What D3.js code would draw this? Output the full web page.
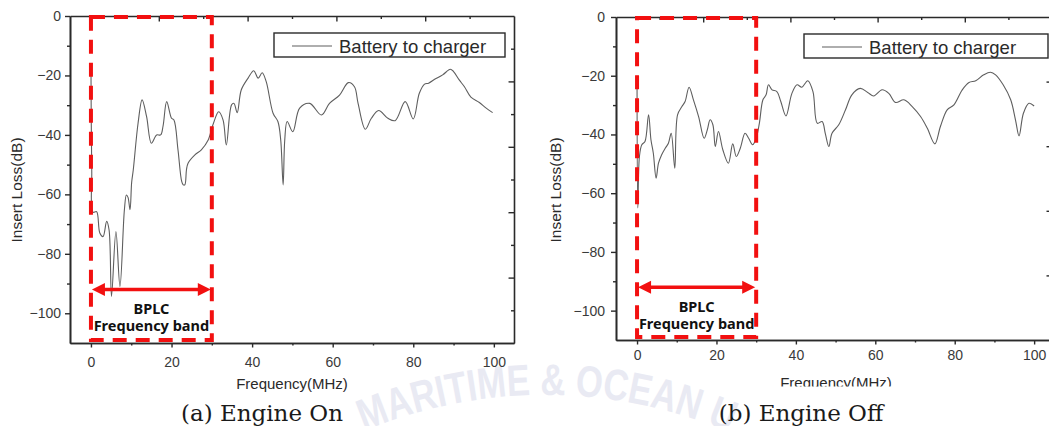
<!DOCTYPE html>
<html>
<head>
<meta charset="utf-8">
<script src="https://cdn.jsdelivr.net/npm/d3@7/dist/d3.min.js"></script>
<style>
  body { margin: 0; background: #fff; }
  svg { display: block; }
  .tick text { font-family: "Liberation Sans", Arial, sans-serif; font-size: 14px; fill: #3a3a3a; }
</style>
</head>
<body>
<svg id="fig" width="1049" height="426"></svg>
<script>
// ---- data ----
var onFreq = [0, 0.2, 0.5, 1.4, 2.2, 3.0, 3.9, 4.5, 5.1, 6.2, 7.2, 8.3, 8.8, 9.2, 9.7, 10.1, 10.5,
  11.7, 12.7, 13.8, 15.0, 16.3, 17.3, 17.9, 18.8, 20.0, 20.6, 21.6, 22.5, 22.9, 23.3, 23.7, 24.1,
  25.8, 27.4, 29.1, 30.3, 31.7, 32.8, 33.6, 34.9, 35.5, 36.3, 37.3, 39.0, 40.4, 41.5, 42.5, 43.5,
  45.2, 46.4, 47.1, 47.7, 48.1, 48.7, 50.1, 51.8, 54.3, 57.2, 59.2, 61.7, 63.9, 65.4, 66.3, 68.1,
  69.6, 71.4, 73.7, 75.5, 78.0, 80.0, 81.5, 82.8, 83.8, 85.3, 87.3, 89.2, 90.0, 91.4, 92.7, 94.3,
  96.4, 98.1, 99.7];
var onLoss = [-16, -52, -66, -65.8, -73, -74.2, -69.1, -72, -94.3, -72.5, -91, -65.2, -60.2, -61, -65.2, -56, -51.8,
  -36, -28.2, -33.8, -42.8, -40, -40, -37, -28.8, -34.4, -35, -45, -55.5, -56.8, -56.8, -51.8, -49.5,
  -46.7, -45, -41.7, -36.5, -32.2, -35, -43.4, -29.9, -29.4, -32.5, -24.9, -20.9, -18.4, -20.9, -19.1, -22.1,
  -32.7, -35.5, -41.7, -56.8, -41.7, -35.5, -38.9, -31, -29.4, -33.3, -29.4, -26.6, -22.4, -23.8, -29.4, -38.1,
  -34.4, -31.8, -34.4, -35.2, -28.8, -34.6, -26, -22.9, -22.6, -21.3, -19.8, -17.9, -18.7, -21.5, -23.8, -27.3,
  -29.1, -31, -32.5];

var offFreq = [0, 0.2, 0.6, 1.2, 2.0, 2.9, 3.5, 4.1, 4.8, 5.4, 6.2, 7.1, 7.9, 8.6, 9.5, 10.2, 11.3,
  12.1, 13.1, 14.2, 15.5, 16.9, 17.7, 18.4, 19.1, 19.7, 20.5, 21.6, 23.0, 24.1, 25.0, 26.0, 27.2,
  28.1, 29.1, 30.0, 30.8, 31.7, 32.5, 33.1, 34.0, 35.2, 36.2, 37.5, 39.0, 40.3, 41.5, 43.0, 44.3,
  45.4, 46.6, 47.4, 48.3, 49.1, 50.8, 52.5, 54.1, 56.2, 58.1, 59.6, 61.7, 63.4, 65.1, 67.2, 69.3,
  71.4, 73.1, 75.0, 76.4, 78.1, 79.8, 81.9, 83.6, 85.3, 87.3, 89.0, 90.3, 92.2, 94.1, 95.3, 96.2,
  97.3, 98.7, 100];
var offLoss = [-20, -65, -47.5, -43.5, -42.4, -33.3, -41.8, -46.4, -54.9, -49.8, -46.9, -44.7, -43, -39.6, -51.5, -33.3, -30.5,
  -28.8, -23.9, -28.2, -33.9, -41.3, -38.4, -35, -36.7, -44.1, -39, -45.2, -49.8, -43.2, -47.5, -44.7, -39.6,
  -41.3, -43.5, -41.3, -36.2, -28.2, -26.5, -23.1, -24.8, -25.4, -28.8, -33.7, -26, -23.1, -23.9, -21.7, -25.4,
  -36.2, -35.6, -39.6, -44.1, -39.6, -36.7, -31.6, -26.5, -24.3, -25.7, -26.9, -24.8, -26, -29.1, -28.2, -30.5,
  -33.9, -37.9, -43.2, -37.3, -31.6, -29.9, -24.8, -22.3, -21.7, -19.7, -18.8, -19.7, -23.1, -28.2, -35, -40.5,
  -32.8, -29.4, -30.3];

var xTicks = [0, 20, 40, 60, 80, 100];
var xMinor = [10, 30, 50, 70, 90];
var yTicks = [0, -20, -40, -60, -80, -100];
var yMinor = [-10, -30, -50, -70, -90];
var yDomain = [-110, 0];
var bandRange = [0, 30];
var bandArrowAt = -92;
var legendLabel = "Battery to charger";
var bandLabel = ["BPLC", "Frequency band"];
var captions = ["(a) Engine On", "(b) Engine Off"];
var xTitle = "Frequency(MHz)";
var yTitle = "Insert Loss(dB)";
var watermark = "MARITIME & OCEAN U";

// ---- layout of each panel ----
var panels = [
  { left: 70, right: 514, top: 16, bottom: 343, xDom: [-5.2, 105], xPad: 10, yPad: 4,
    legX: 274, legW: 231, yTitleX: 16, xTitleX: 292, xTitleY: 389, capX: 262, clipTitle: false },
  { left: 616, right: 1052, top: 17, bottom: 340, xDom: [-5.3, 104.5], xPad: 6, yPad: 6,
    legX: 804, legW: 244, yTitleX: 555, xTitleX: 836, xTitleY: 388, capX: 801, clipTitle: true }
];

var svg = d3.select("svg#fig");
var red = "#f21010";

// faint watermark behind the charts
svg.append("path").attr("id", "wmArc").attr("fill", "none")
  .attr("d", "M355,435 A469,469 0 0,1 760,447");
svg.append("text")
  .attr("font-family", "'Liberation Sans', Arial, sans-serif")
  .attr("font-weight", "bold").attr("font-size", 44).attr("fill", "#e9eaf3")
  .append("textPath").attr("href", "#wmArc").attr("startOffset", 10)
  .attr("textLength", 375).attr("lengthAdjust", "spacingAndGlyphs").text(watermark);

svg.append("defs").append("clipPath").attr("id", "clipBottom")
  .append("rect").attr("x", 0).attr("y", 0).attr("width", 1049).attr("height", 386.5);

function negFmt(d) { return d < 0 ? "\u2212" + (-d) : String(d); }

function drawPanel(p, freq, loss, caption) {
  var x = d3.scaleLinear().domain(p.xDom).range([p.left, p.right]);
  var y = d3.scaleLinear().domain(yDomain).range([p.bottom, p.top]);
  // top/right frame axes are split in ten equal parts
  var fx = d3.scaleLinear().domain([0, 10]).range([p.left, p.right]);
  var fy = d3.scaleLinear().domain([0, 10]).range([p.bottom, p.top]);

  var g = svg.append("g");

  // curve
  var pts = freq.map(function(f, i) { return [f, loss[i]]; });
  g.append("path").datum(pts)
    .attr("fill", "none").attr("stroke", "#5e5e5e").attr("stroke-width", 1.1)
    .attr("d", d3.line().curve(d3.curveCatmullRom.alpha(0.5))
      .x(function(d) { return x(d[0]); }).y(function(d) { return y(d[1]); }));

  // axes
  function styleAxis(sel) {
    sel.selectAll("path.domain").attr("stroke", "#2a2a2a").attr("stroke-width", 1.6);
    sel.selectAll(".tick line").attr("stroke", "#2a2a2a").attr("stroke-width", 1.4);
  }
  function noText(sel) { sel.selectAll(".tick text").remove(); }

  g.append("g").attr("transform", "translate(0," + p.bottom + ")")
    .call(d3.axisBottom(x).tickValues(xMinor).tickSize(2.5).tickSizeOuter(0))
    .call(styleAxis).call(noText);
  g.append("g").attr("transform", "translate(0," + p.bottom + ")")
    .call(d3.axisBottom(x).tickValues(xTicks).tickSize(4.5).tickSizeOuter(0).tickPadding(p.xPad).tickFormat(d3.format("d")))
    .call(styleAxis);
  g.append("g").attr("transform", "translate(" + p.left + ",0)")
    .call(d3.axisLeft(y).tickValues(yMinor).tickSize(3).tickSizeOuter(0))
    .call(styleAxis).call(noText);
  g.append("g").attr("transform", "translate(" + p.left + ",0)")
    .call(d3.axisLeft(y).tickValues(yTicks).tickSize(5).tickSizeOuter(0).tickPadding(p.yPad).tickFormat(negFmt))
    .call(styleAxis);
  g.append("g").attr("transform", "translate(0," + p.top + ")")
    .call(d3.axisTop(fx).tickValues(d3.range(1, 10)).tickSizeInner(-3).tickSizeOuter(0))
    .call(styleAxis).call(noText)
    .selectAll(".tick line").attr("y2", function(d) { return (10 - d) % 2 === 0 ? 5.5 : 3; });
  g.append("g").attr("transform", "translate(" + p.right + ",0)")
    .call(d3.axisRight(fy).tickValues(d3.range(1, 10)).tickSizeInner(-3).tickSizeOuter(0))
    .call(styleAxis).call(noText)
    .selectAll(".tick line").attr("x2", function(d) { return d % 2 === 0 ? -5.5 : -3; });

  // legend
  var leg = g.append("g");
  leg.append("rect").attr("x", p.legX).attr("y", p.top + 17).attr("width", p.legW).attr("height", 24)
    .attr("fill", "#fff").attr("stroke", "#2a2a2a").attr("stroke-width", 1.4);
  leg.append("line").attr("x1", p.legX + 18).attr("x2", p.legX + 58)
    .attr("y1", p.top + 30).attr("y2", p.top + 30)
    .attr("stroke", "#5e5e5e").attr("stroke-width", 1.1);
  leg.append("text").attr("x", p.legX + 65).attr("y", p.top + 37)
    .attr("font-family", "'Liberation Sans', Arial, sans-serif").attr("font-size", 18.5)
    .attr("fill", "#2a2a2a").text(legendLabel);

  // BPLC band box
  var bx0 = x(bandRange[0]), bx1 = x(bandRange[1]);
  g.append("rect").attr("x", bx0).attr("y", p.top + 1)
    .attr("width", bx1 - bx0).attr("height", p.bottom - p.top - 4)
    .attr("fill", "none").attr("stroke", red).attr("stroke-width", 4)
    .attr("stroke-dasharray", "14,9");

  // double-headed arrow across the band
  var ay = y(bandArrowAt);
  g.append("line").attr("x1", bx0 + 10).attr("x2", bx1 - 10).attr("y1", ay).attr("y2", ay)
    .attr("stroke", red).attr("stroke-width", 3.5);
  g.append("path").attr("fill", red)
    .attr("d", "M" + (bx0 + 1) + "," + ay + "L" + (bx0 + 14) + "," + (ay - 6.5) + "L" + (bx0 + 14) + "," + (ay + 6.5) + "Z");
  g.append("path").attr("fill", red)
    .attr("d", "M" + (bx1 - 1) + "," + ay + "L" + (bx1 - 14) + "," + (ay - 6.5) + "L" + (bx1 - 14) + "," + (ay + 6.5) + "Z");

  var bt = g.append("text").attr("text-anchor", "middle")
    .attr("font-family", "'Noto Sans', 'DejaVu Sans', sans-serif").attr("font-weight", "bold")
    .attr("font-size", 14.5).attr("fill", "#111");
  bt.append("tspan").attr("x", (bx0 + bx1) / 2).attr("y", ay + 25).text(bandLabel[0]);
  bt.append("tspan").attr("x", (bx0 + bx1) / 2).attr("y", ay + 42).text(bandLabel[1]);

  // axis titles
  g.append("text").attr("text-anchor", "middle")
    .attr("transform", "translate(" + (p.yTitleX + 6) + "," + 190 + ") rotate(-90)")
    .attr("font-family", "'Liberation Sans', Arial, sans-serif").attr("font-size", 15.5)
    .attr("fill", "#2a2a2a").text(yTitle);
  var xt = g.append("text").attr("text-anchor", "middle")
    .attr("x", p.xTitleX).attr("y", p.xTitleY)
    .attr("font-family", "'Liberation Sans', Arial, sans-serif").attr("font-size", 15)
    .attr("fill", "#2a2a2a").text(xTitle);
  if (p.clipTitle) xt.attr("clip-path", "url(#clipBottom)");

  // caption
  svg.append("text").attr("text-anchor", "middle").attr("x", p.capX).attr("y", 421)
    .attr("font-family", "'DejaVu Serif', 'Liberation Serif', serif").attr("font-size", 23)
    .attr("fill", "#1a1a1a").text(caption);
}

drawPanel(panels[0], onFreq, onLoss, captions[0]);
drawPanel(panels[1], offFreq, offLoss, captions[1]);
</script>
</body>
</html>
